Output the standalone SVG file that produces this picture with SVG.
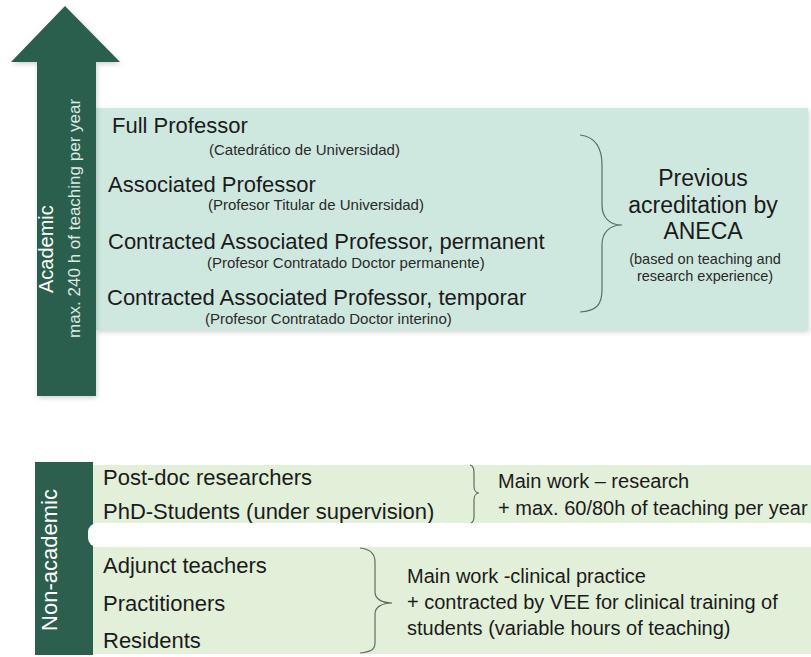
<svg xmlns="http://www.w3.org/2000/svg" width="811" height="657" viewBox="0 0 811 657">
  <defs>
    <filter id="soft" x="-5%" y="-5%" width="110%" height="115%">
      <feDropShadow dx="1" dy="2" stdDeviation="2.5" flood-color="#000" flood-opacity="0.18"/>
    </filter>
    <style>
      text { font-family: "Liberation Sans", Arial, sans-serif; fill: #1b1b1b; }
      .rank { font-size: 22px; }
      .sub { font-size: 15px; fill: #2a2a2a; }
      .big { font-size: 23px; text-anchor: middle; }
      .note { font-size: 14.5px; text-anchor: middle; fill: #2a2a2a; }
      .item { font-size: 22px; }
      .desc { font-size: 20px; }
      .side { fill: #ffffff; }
      .side-sub { fill: #dfe9e3; }
      .brace { fill: none; stroke: #5d6e62; stroke-width: 1.2; }
    </style>
  </defs>

  <rect width="811" height="657" fill="#ffffff"/>

  <!-- academic ranks panel -->
  <g id="academic-box">
    <rect x="96" y="108" width="712" height="222" fill="#cfe8df" filter="url(#soft)"/>
    <text class="rank" x="112" y="133">Full Professor</text>
    <text class="sub" x="209" y="155">(Catedrático de Universidad)</text>
    <text class="rank" x="108" y="192">Associated Professor</text>
    <text class="sub" x="208" y="210">(Profesor Titular de Universidad)</text>
    <text class="rank" x="108" y="249">Contracted Associated Professor, permanent</text>
    <text class="sub" x="207" y="268">(Profesor Contratado Doctor permanente)</text>
    <text class="rank" x="107" y="305">Contracted Associated Professor, temporar</text>
    <text class="sub" x="205" y="324">(Profesor Contratado Doctor interino)</text>
  </g>

  <!-- upward arrow with the academic label -->
  <g id="academic-arrow">
    <path d="M65,6 L120,62 L96,62 L96,396 L37,396 L37,62 L11,62 Z" fill="#2c5f4e" filter="url(#soft)"/>
    <text class="side" font-size="20" transform="translate(53,293) rotate(-90)">Academic</text>
    <text class="side-sub" font-size="17" transform="translate(80,338) rotate(-90)">max. 240 h of teaching per year</text>
  </g>

  <g id="aneca-note">
    <text class="big" x="703" y="186">Previous</text>
    <text class="big" x="703" y="213">acreditation by</text>
    <text class="big" x="703" y="239">ANECA</text>
    <text class="note" x="705" y="264">(based on teaching and</text>
    <text class="note" x="705" y="281">research experience)</text>
  </g>

  <!-- non-academic staff -->
  <g id="nonacademic-bar">
    <rect x="35" y="462" width="58" height="193" fill="#2c5f4e"/>
    <text class="side" font-size="22" text-anchor="middle" transform="translate(57,560) rotate(-90)">Non-academic</text>
  </g>

  <g id="research-box">
    <rect x="93" y="465" width="718" height="62" fill="#e2efd9"/>
    <text class="item" x="103" y="485">Post-doc researchers</text>
    <text class="item" x="103" y="519">PhD-Students (under supervision)</text>
    <text class="desc" x="498" y="488">Main work – research</text>
    <text class="desc" x="498" y="515">+ max. 60/80h of teaching per year</text>
  </g>

  <g id="clinical-box">
    <rect x="93" y="547" width="718" height="107" fill="#e2efd9"/>
    <text class="item" x="103" y="573">Adjunct teachers</text>
    <text class="item" x="103" y="611">Practitioners</text>
    <text class="item" x="103" y="648">Residents</text>
    <text class="desc" x="407" y="583">Main work -clinical practice</text>
    <text class="desc" x="407" y="609">+ contracted by VEE for clinical training of</text>
    <text class="desc" x="407" y="635">students (variable hours of teaching)</text>
  </g>

  <!-- white gap separating the two non-academic bands -->
  <rect x="88" y="523" width="730" height="24" rx="9" fill="#ffffff"/>

  <!-- grouping braces -->
  <g id="connectors">
    <path class="brace" d="M580,135 C596,137 602,148 602,165 L602,205 C602,218 610,225 622,225 C610,225 602,232 602,245 L602,290 C602,305 596,311 580,312"/>
    <path class="brace" d="M470,465 C474,466 474,470 474,475 L474,486 C474,490 476,493 479,493 C476,493 474,496 474,500 L474,517 C474,520 473,522 471,523"/>
    <path class="brace" d="M360,548 C370,549 375,553 375,562 L375,592 C375,599 382,603 392,603 C382,603 375,607 375,614 L375,643 C375,650 370,652 360,653"/>
  </g>
</svg>
